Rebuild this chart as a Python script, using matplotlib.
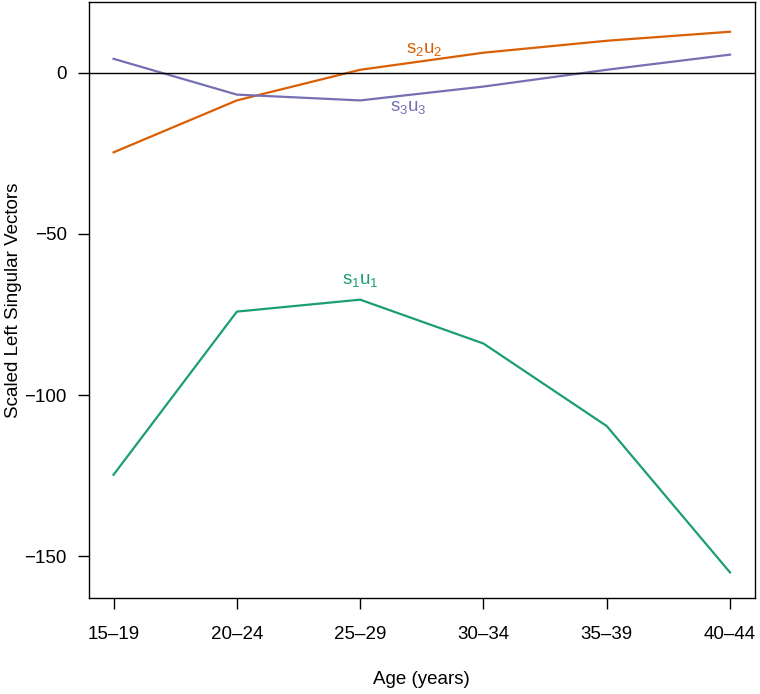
import matplotlib
matplotlib.use("Agg")
import matplotlib.pyplot as plt

plt.rcParams['font.family'] = ['Liberation Sans', 'DejaVu Sans']
plt.rcParams['mathtext.fontset'] = 'custom'
plt.rcParams['mathtext.rm'] = 'Liberation Sans'
plt.rcParams['mathtext.it'] = 'Liberation Sans'
plt.rcParams['mathtext.bf'] = 'Liberation Sans'

age_groups = ["15–19", "20–24", "25–29", "30–34", "35–39", "40–44"]
s1u1 = [-124.7, -74.1, -70.4, -84.0, -109.6, -155.0]
s2u2 = [-24.7, -8.6, 0.9, 6.2, 9.9, 12.7]
s3u3 = [4.3, -6.8, -8.6, -4.3, 0.9, 5.6]

colors = {"s1": "#1b9e77", "s2": "#d95f02", "s3": "#7570b3"}

fig = plt.figure(figsize=(7.6, 6.94), dpi=100)
ax = fig.add_axes([0.117, 0.138, 0.876, 0.859])

x = list(range(1, len(age_groups) + 1))
ax.plot(x, s1u1, color=colors["s1"], lw=1.6)
ax.plot(x, s2u2, color=colors["s2"], lw=1.6)
ax.plot(x, s3u3, color=colors["s3"], lw=1.6)
ax.axhline(0, color="black", lw=1.0)

fs = 13.5
ax.text(3.0, -64.5, r"s$_1$u$_1$", color=colors["s1"], fontsize=fs, ha="center", va="center")
ax.text(3.52, 7.3, r"s$_2$u$_2$", color=colors["s2"], fontsize=fs, ha="center", va="center")
ax.text(3.39, -10.8, r"s$_3$u$_3$", color=colors["s3"], fontsize=fs, ha="center", va="center")

ax.set_xlim(0.8, 6.2)
ax.set_ylim(-163.0, 21.9)
ax.set_xticks(x)
ax.set_xticklabels(age_groups)
ax.set_yticks([-150, -100, -50, 0])
ax.tick_params(axis="both", labelsize=fs, length=8, width=1.0, direction="out")
ax.tick_params(axis="x", pad=12)
ax.tick_params(axis="y", pad=8)
for s in ax.spines.values():
    s.set_linewidth(1.0)

ax.set_xlabel("Age (years)", fontsize=fs, labelpad=20)
ax.set_ylabel("Scaled Left Singular Vectors", fontsize=fs, labelpad=2)

fig.savefig("out.png", dpi=100)
